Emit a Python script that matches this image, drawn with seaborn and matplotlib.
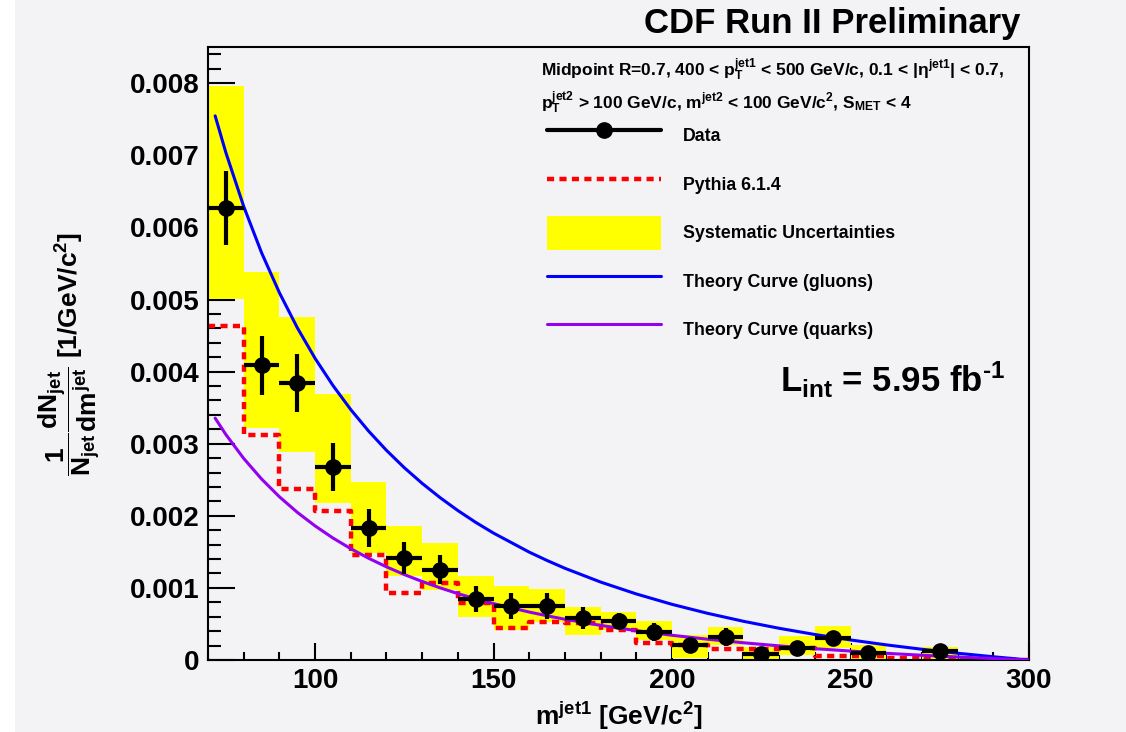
import matplotlib
matplotlib.use("Agg")
import matplotlib.pyplot as plt
from matplotlib.lines import Line2D
from matplotlib.patches import Patch, Rectangle
from matplotlib.ticker import MultipleLocator, FuncFormatter
import seaborn as sns

# ---- leading-jet mass spectrum, 10 GeV/c^2 bins ----
data_mass = [75, 85, 95, 105, 115, 125, 135, 145, 155, 165,
             175, 185, 195, 205, 215, 225, 235, 245, 255, 275]
data_val = [0.00627, 0.00409, 0.00384, 0.00268, 0.00183, 0.00141, 0.00125, 0.00085, 0.00075, 0.00075,
            0.00058, 0.00054, 0.00039, 0.00021, 0.00032, 0.00008, 0.00017, 0.00030, 0.00010, 0.00012]
data_err = [0.00051, 0.00041, 0.00040, 0.00033, 0.00026, 0.00022, 0.00020, 0.00018, 0.00018, 0.00018,
            0.00015, 0.00011, 0.00013, 0.00010, 0.00013, 0.00010, 0.00010, 0.00010, 0.00008, 0.00008]

# systematic uncertainty band per bin (low / high edge)
syst_low = [0.00501, 0.00322, 0.00288, 0.00218, 0.00148, 0.00117, 0.00097, 0.00060, 0.00041, 0.00053,
            0.00035, 0.00042, 0.00028, 0.00003, 0.00021, 0.00000, 0.00007, 0.00016, 0.00000, 0.00000]
syst_high = [0.00796, 0.00538, 0.00476, 0.00369, 0.00247, 0.00186, 0.00162, 0.00116, 0.00103, 0.00098,
             0.00074, 0.00067, 0.00054, 0.00035, 0.00046, 0.00018, 0.00033, 0.00047, 0.00021, 0.00018]

# Pythia 6.1.4 prediction
pythia_edges = [70, 80, 90, 100, 110, 120, 130, 140, 150, 160, 170, 180,
                190, 200, 210, 220, 230, 240, 250, 260, 270, 280, 290, 300]
pythia_val = [0.00463, 0.00312, 0.00237, 0.00207, 0.00146, 0.00093, 0.00107, 0.00079, 0.00044, 0.00053,
              0.00052, 0.00042, 0.00024, 0.00021, 0.00015, 0.00015, 0.00016, 0.00006, 0.00006, 0.00003,
              0.00001, 0.00000, 0.00000]

# theory jet-function curves
theory_mass = [72, 75, 80, 85, 90, 95, 100, 105, 110, 115, 120, 125, 130, 135, 140, 145, 150,
               160, 165, 170, 180, 190, 200, 210, 220, 230, 240, 250, 260, 270, 280, 290, 300]
theory_gluon = [0.007548, 0.007039, 0.006292, 0.005650, 0.005095, 0.004610, 0.004184, 0.003808,
                0.003473, 0.003175, 0.002908, 0.002667, 0.002450, 0.002253, 0.002073, 0.001909,
                0.001760, 0.001496, 0.001380, 0.001272, 0.001081, 0.000916, 0.000772, 0.000647,
                0.000537, 0.000440, 0.000354, 0.000278, 0.000210, 0.000149, 0.000094, 0.000045, 0.0]
theory_quark = [0.003355, 0.003128, 0.002796, 0.002511, 0.002264, 0.002049, 0.001860, 0.001692,
                0.001544, 0.001411, 0.001292, 0.001185, 0.001089, 0.001001, 0.000921, 0.000848,
                0.000782, 0.000665, 0.000613, 0.000565, 0.000480, 0.000407, 0.000343, 0.000288,
                0.000239, 0.000196, 0.000157, 0.000124, 0.000093, 0.000066, 0.000042, 0.000020, 0.0]

legend_labels = ["Data", "Pythia 6.1.4", "Systematic Uncertainties",
                 "Theory Curve (gluons)", "Theory Curve (quarks)"]

BG = "#f3f2f5"
YELLOW = "#ffff00"
BLUE = "#0000ff"
PURPLE = "#9400f0"
W, H = 1126, 732

sns.set_theme(style="ticks")
plt.rcParams.update({
    "font.family": ["Liberation Sans", "DejaVu Sans"],
    "font.weight": "bold",
    "text.color": "black",
    "axes.labelcolor": "black",
    "xtick.color": "black",
    "ytick.color": "black",
    "mathtext.fontset": "custom",
    "mathtext.rm": "Liberation Sans:bold",
    "mathtext.it": "Liberation Sans:bold",
    "mathtext.bf": "Liberation Sans:bold",
    "mathtext.sf": "Liberation Sans:bold",
    "axes.edgecolor": "black",
    "axes.linewidth": 1.5,
})

fig = plt.figure(figsize=(W / 100, H / 100), dpi=100, facecolor=BG)
fig.add_artist(Rectangle((0, 0), 15 / W, 1, transform=fig.transFigure,
                         facecolor="white", edgecolor="none", zorder=-10))
ax = fig.add_axes([208 / W, 1 - 660 / H, (1029 - 208) / W, (660 - 47) / H])
ax.set_facecolor(BG)

# systematic boxes
heights = [h - l for l, h in zip(syst_low, syst_high)]
ax.bar(data_mass, heights, bottom=syst_low, width=10, color=YELLOW,
       edgecolor="none", zorder=1)

# Pythia step histogram
sns.lineplot(x=pythia_edges, y=pythia_val + [pythia_val[-1]], ax=ax,
             drawstyle="steps-post", color="red", linewidth=3.2,
             linestyle=(0, (1.6, 1.2)), legend=False, zorder=2)

# theory curves
sns.lineplot(x=theory_mass, y=theory_gluon, ax=ax, color=BLUE,
             linewidth=2.2, legend=False, zorder=3)
sns.lineplot(x=theory_mass, y=theory_quark, ax=ax, color=PURPLE,
             linewidth=2.2, legend=False, zorder=3)

# data points
ax.errorbar(data_mass, data_val, yerr=data_err, xerr=5, fmt="o", color="black",
            markersize=11, elinewidth=3, capsize=0, zorder=4)

ax.set_xlim(70, 300)
ax.set_ylim(0, 0.008503)
ax.xaxis.set_major_locator(MultipleLocator(50))
ax.xaxis.set_minor_locator(MultipleLocator(10))
ax.yaxis.set_major_locator(MultipleLocator(0.001))
ax.yaxis.set_minor_locator(MultipleLocator(0.0002))
ax.yaxis.set_major_formatter(FuncFormatter(lambda v, p: "0" if abs(v) < 1e-9 else f"{v:.3f}"))
ax.tick_params(which="both", direction="in", width=1.5, top=False, right=False,
               labelsize=20, pad=6, colors="black")
ax.tick_params(axis="x", which="major", length=12)
ax.tick_params(axis="x", which="minor", length=6)
ax.tick_params(axis="y", which="major", length=19.5)
ax.tick_params(axis="y", which="minor", length=9.7)
for lab in ax.get_xticklabels() + ax.get_yticklabels():
    lab.set_fontweight("bold")
for s in ax.spines.values():
    s.set_visible(True)
    s.set_linewidth(1.5)
    s.set_color("black")

ax.set_xlabel(r"m$^{jet1}$ [GeV/c$^2$]", fontsize=19, fontweight="bold", labelpad=4)
ax.set_ylabel(r"$\dfrac{1}{N_{jet}}\dfrac{dN_{jet}}{dm^{jet}}$ [1/GeV/c$^2$]",
              fontsize=19, fontweight="bold", labelpad=20)

fig.text(1020 / W, 1 - 33 / H, "CDF Run II Preliminary", fontsize=25,
         fontweight="bold", ha="right", va="baseline")

fig.text(541 / W, 1 - 76 / H,
         r"Midpoint R=0.7, 400 < p$_T^{jet1}$ < 500 GeV/c, 0.1 < |$\eta^{jet1}$| < 0.7,",
         fontsize=12.5, fontweight="bold", va="baseline")
fig.text(541 / W, 1 - 109 / H,
         r"p$_T^{jet2}$ > 100 GeV/c, m$^{jet2}$ < 100 GeV/c$^2$, S$_{MET}$ < 4",
         fontsize=12.5, fontweight="bold", va="baseline")

fig.text(780 / W, 1 - 392 / H, r"L$_{int}$ = 5.95 fb$^{\text{-}1}$", fontsize=25,
         fontweight="bold", va="baseline")

handles = [
    Line2D([], [], color="black", lw=3, marker="o", markersize=11),
    Line2D([], [], color="red", lw=3.2, linestyle=(0, (1.6, 1.2))),
    Patch(facecolor=YELLOW, edgecolor="none"),
    Line2D([], [], color=BLUE, lw=2.2),
    Line2D([], [], color=PURPLE, lw=2.2),
]
fig.legend(handles, legend_labels, loc="upper left",
           bbox_to_anchor=(547 / W, 1 - 119 / H), bbox_transform=fig.transFigure,
           frameon=False, prop={"weight": "bold", "size": 12.8},
           handlelength=6.4, handleheight=2.57, handletextpad=1.24,
           labelspacing=0.81, borderpad=0, borderaxespad=0, numpoints=1)

fig.savefig("out.png", dpi=100, facecolor=BG)
